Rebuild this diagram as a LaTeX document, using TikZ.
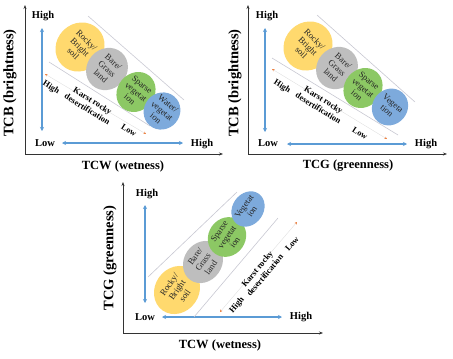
\documentclass[tikz,border=0pt]{standalone}
\usepackage{fontspec}
\setmainfont{Liberation Serif}
\usetikzlibrary{arrows.meta,shapes.geometric}
\definecolor{ey}{RGB}{255,217,110}
\definecolor{eg}{RGB}{190,190,190}
\definecolor{egr}{RGB}{140,200,100}
\definecolor{eb}{RGB}{125,170,220}
\definecolor{ab}{RGB}{91,155,213}
\definecolor{bandc}{RGB}{200,200,210}
\definecolor{orc}{RGB}{235,125,60}
\tikzset{
  axisln/.style={draw=black!80, line width=0.8pt, -{Stealth[length=4pt,width=3pt]}},
  bluearr/.style={draw=ab, line width=1.3pt, {Stealth[length=4pt,width=4pt]}-{Stealth[length=4pt,width=4pt]}},
  bandln/.style={draw=bandc, line width=0.6pt},
  kdln/.style={draw=black!12, line width=0.4pt, {Stealth[length=2.5pt,width=2.5pt,color=orc]}-{Stealth[length=2.5pt,width=2.5pt,color=orc]}},
  hl/.style={font=\fontsize{10.5}{11}\selectfont\bfseries, inner sep=0pt},
  vlab/.style={font=\fontsize{14.5}{15}\selectfont\bfseries, inner sep=0pt, rotate=90},
  hlab/.style={font=\fontsize{12.5}{13}\selectfont\bfseries, inner sep=0pt},
  bt/.style={font=\fontsize{8.5}{10}\selectfont\bfseries, inner sep=0pt, align=center},
  ell/.style={ellipse, inner sep=0pt, align=center, font=\fontsize{8.8}{9.6}\selectfont, text=black!85},
}
\begin{document}
\begin{tikzpicture}[x=1pt,y=-1pt]
\useasboundingbox (0,0) rectangle (453,359);
% ---------------- Panel 1 ----------------
\coordinate (o1) at (25,154);
\coordinate (y1) at (25,5);
\coordinate (x1) at (223,154);
\draw[axisln] (o1) -- (y1);
\draw[axisln] (o1) -- (x1);
\node[hl] (h1t) at (43,16) {High};
\node[hl] (l1) at (45,143) {Low};
\node[hl] (h1r) at (202,144) {High};
\coordinate (b1a) at (42,28); \coordinate (b1b) at (42,131);
\draw[bluearr] (b1a) -- (b1b);
\coordinate (b1c) at (62,143); \coordinate (b1d) at (183,143);
\draw[bluearr] (b1c) -- (b1d);
\node[vlab] (v1) at (10,83) {TCB (brightness)};
\node[hlab] (t1) at (123,166) {TCW (wetness)};
\coordinate (u1a) at (88,16); \coordinate (u1b) at (184,100);
\draw[bandln] (u1a) -- (u1b);
\coordinate (w1a) at (49,62); \coordinate (w1b) at (150,126);
\draw[bandln] (w1a) -- (w1b);
\coordinate (k1a) at (45,74); \coordinate (k1b) at (146,134);
\draw[kdln] (k1a) -- (k1b);
\node[ell, fill=ey, rotate=-45, minimum width=47pt, minimum height=51pt] (e1a) at (80,47) {Rocky/\\Bright\\soil};
\node[ell, fill=eg, rotate=-42, minimum width=40pt, minimum height=44pt] (e1b) at (107,69) {Bare/\\Grass\\land};
\node[ell, fill=egr, rotate=-40, minimum width=37pt, minimum height=42pt] (e1c) at (136,92) {Sparse\\vegetat\\ion};
\node[ell, fill=eb, rotate=-40, minimum width=35pt, minimum height=38pt] (e1d) at (162,111) {Water/\\vegetat\\ion};
\node[bt, rotate=-32] (kh1) at (51,88) {High};
\node[bt, rotate=-32] (kk1) at (90,105) {Karst rocky\\desertification};
\node[bt, rotate=-32] (kl1) at (129,130) {Low};
% ---------------- Panel 2 ----------------
\coordinate (o2) at (248,154);
\coordinate (y2) at (248,5);
\coordinate (x2) at (447,154);
\draw[axisln] (o2) -- (y2);
\draw[axisln] (o2) -- (x2);
\node[hl] (h2t) at (267,16) {High};
\node[hl] (l2) at (268,143) {Low};
\node[hl] (h2r) at (426,144) {High};
\coordinate (b2a) at (265,28); \coordinate (b2b) at (265,132);
\draw[bluearr] (b2a) -- (b2b);
\coordinate (b2c) at (287,144); \coordinate (b2d) at (407,144);
\draw[bluearr] (b2c) -- (b2d);
\node[vlab] (v2) at (235,83) {TCB (brightness)};
\node[hlab] (t2) at (348,166) {TCG (greenness)};
\coordinate (u2a) at (317,15); \coordinate (u2b) at (415,102);
\draw[bandln] (u2a) -- (u2b);
\coordinate (w2a) at (272,58); \coordinate (w2b) at (398,135);
\draw[bandln] (w2a) -- (w2b);
\coordinate (k2a) at (272,69); \coordinate (k2b) at (387,139);
\draw[kdln] (k2a) -- (k2b);
\node[ell, fill=ey, rotate=-45, minimum width=47pt, minimum height=51pt] (e2a) at (308,46) {Rocky/\\Bright\\soil};
\node[ell, fill=eg, rotate=-42, minimum width=40pt, minimum height=44pt] (e2b) at (337,68) {Bare/\\Grass\\land};
\node[ell, fill=egr, rotate=-40, minimum width=37pt, minimum height=42pt] (e2c) at (363,88) {Sparse\\vegetat\\ion};
\node[ell, fill=eb, rotate=-40, minimum width=35pt, minimum height=38pt] (e2d) at (390,107) {Vegeta\\tion};
\node[bt, rotate=-32] (kh2) at (282,87) {High};
\node[bt, rotate=-32] (kk2) at (321,104) {Karst rocky\\desertification};
\node[bt, rotate=-32] (kl2) at (360,133) {Low};
% ---------------- Panel 3 ----------------
\coordinate (o3) at (123,333);
\coordinate (y3) at (123,182);
\coordinate (x3) at (323,333);
\draw[axisln] (o3) -- (y3);
\draw[axisln] (o3) -- (x3);
\node[hl] (h3t) at (147,194) {High};
\node[hl] (l3) at (145,317) {Low};
\node[hl] (h3r) at (301,317) {High};
\coordinate (b3a) at (145,205); \coordinate (b3b) at (145,303);
\draw[bluearr] (b3a) -- (b3b);
\coordinate (b3c) at (162,317); \coordinate (b3d) at (282,317);
\draw[bluearr] (b3c) -- (b3d);
\node[vlab] (v3) at (110,258) {TCG (greenness)};
\node[hlab] (t3) at (220,345) {TCW (wetness)};
\coordinate (u3a) at (148,277); \coordinate (u3b) at (237,192);
\draw[bandln] (u3a) -- (u3b);
\coordinate (w3a) at (194,317); \coordinate (w3b) at (278,218);
\draw[bandln] (w3a) -- (w3b);
\coordinate (k3a) at (220,312); \coordinate (k3b) at (297,222);
\draw[kdln] (k3a) -- (k3b);
\node[ell, fill=ey, rotate=55, minimum width=50pt, minimum height=44pt] (e3a) at (177,290) {Rocky/\\Bright\\soil};
\node[ell, fill=eg, rotate=55, minimum width=44pt, minimum height=38pt] (e3b) at (203,262) {Bare/\\Grass\\land};
\node[ell, fill=egr, rotate=55, minimum width=41pt, minimum height=37pt] (e3c) at (227,237) {Sparse\\vegetat\\ion};
\node[ell, fill=eb, rotate=55, minimum width=37pt, minimum height=31pt] (e3d) at (248,209) {Vegetat\\ion};
\node[bt, rotate=50] (kh3) at (237,305) {High};
\node[bt, rotate=50] (kk3) at (261,272) {Karst rocky\\desertification};
\node[bt, rotate=50] (kl3) at (292,244) {Low};
\end{tikzpicture}
\end{document}
